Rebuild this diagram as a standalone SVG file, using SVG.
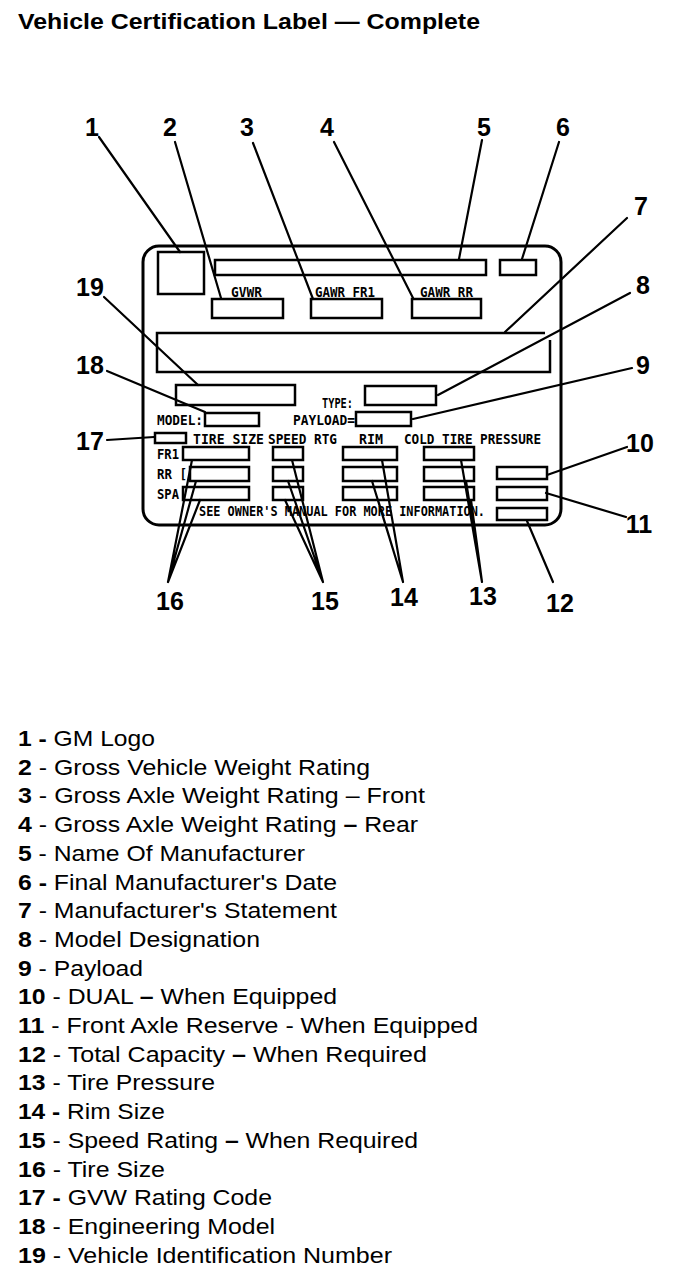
<svg xmlns="http://www.w3.org/2000/svg" width="688" height="1284" viewBox="0 0 688 1284">
<style>
.bx{fill:none;stroke:#000;stroke-width:2.5}
.ld{fill:none;stroke:#000;stroke-width:2.2;stroke-linecap:round}
.lt{font-family:"DejaVu Sans Mono","Liberation Mono",monospace;font-weight:bold;font-size:14px;fill:#000}
.num{font-family:"Liberation Sans",Arial,sans-serif;font-weight:bold;font-size:25px;fill:#000;text-anchor:middle}
.lg{font-family:"Liberation Sans",Arial,sans-serif;font-size:22px;fill:#000}
.b{font-weight:bold}
</style>
<rect width="688" height="1284" fill="#fff"/>
<text x="18" y="29" font-family="Liberation Sans, Arial, sans-serif" font-weight="bold" font-size="22px" textLength="462" lengthAdjust="spacingAndGlyphs">Vehicle Certification Label — Complete</text>

<g id="label">
<rect x="143" y="246" width="418" height="279" rx="16" ry="16" fill="none" stroke="#000" stroke-width="3"/>
</g>
<g id="n1-logo"><rect class="bx" x="158" y="252" width="46" height="42"/></g>
<g id="n5-manufacturer"><rect class="bx" x="215" y="260" width="271" height="15"/></g>
<g id="n6-date"><rect class="bx" x="500" y="260" width="36" height="15"/></g>
<g id="n2-gvwr"><text class="lt" x="231" y="297" textLength="31" lengthAdjust="spacingAndGlyphs">GVWR</text><rect class="bx" x="212" y="299" width="71" height="19"/></g>
<g id="n3-gawrfr"><text class="lt" x="315" y="297" textLength="60" lengthAdjust="spacingAndGlyphs">GAWR FR1</text><rect class="bx" x="311" y="299" width="71" height="19"/></g>
<g id="n4-gawrrr"><text class="lt" x="420" y="297" textLength="53" lengthAdjust="spacingAndGlyphs">GAWR RR</text><rect class="bx" x="412" y="299" width="69" height="19"/></g>
<g id="n7-statement"><path class="bx" d="M545 333 H157 V372 H550 V340"/></g>
<g id="n19-vin"><rect class="bx" x="176" y="385" width="119" height="20"/></g>
<g id="n8-type"><text class="lt" x="322" y="408" textLength="31" lengthAdjust="spacingAndGlyphs">TYPE:</text><rect class="bx" x="365" y="386" width="71" height="19"/></g>
<g id="n18-model"><text class="lt" x="157" y="425" textLength="46" lengthAdjust="spacingAndGlyphs">MODEL:</text><rect class="bx" x="205" y="413" width="54" height="13"/></g>
<g id="n9-payload"><text class="lt" x="293" y="425" textLength="62" lengthAdjust="spacingAndGlyphs">PAYLOAD=</text><rect class="bx" x="356" y="412" width="55" height="14"/></g>
<g id="n17-gvw"><rect class="bx" x="155" y="433" width="31" height="10"/></g>
<g id="headers">
<text class="lt" x="193" y="444" textLength="71" lengthAdjust="spacingAndGlyphs">TIRE SIZE</text>
<text class="lt" x="268" y="444" textLength="69" lengthAdjust="spacingAndGlyphs">SPEED RTG</text>
<text class="lt" x="359" y="444" textLength="24" lengthAdjust="spacingAndGlyphs">RIM</text>
<text class="lt" x="404" y="444" textLength="137" lengthAdjust="spacingAndGlyphs">COLD TIRE PRESSURE</text>
<text class="lt" x="157" y="459" textLength="22" lengthAdjust="spacingAndGlyphs">FR1</text>
<text class="lt" x="157" y="479" textLength="30" lengthAdjust="spacingAndGlyphs">RR [</text>
<text class="lt" x="157" y="499" textLength="22" lengthAdjust="spacingAndGlyphs">SPA</text>
<text class="lt" x="199" y="516" textLength="286" lengthAdjust="spacingAndGlyphs">SEE OWNER'S MANUAL FOR MORE INFORMATION.</text>
</g>
<g id="n16-tiresize">
<rect class="bx" x="183" y="447" width="66" height="13"/>
<rect class="bx" x="190" y="467" width="59" height="14"/>
<rect class="bx" x="183" y="487" width="66" height="13"/>
</g>
<g id="n15-speed">
<rect class="bx" x="273" y="447" width="30" height="13"/>
<rect class="bx" x="273" y="467" width="30" height="14"/>
<rect class="bx" x="273" y="487" width="30" height="13"/>
</g>
<g id="n14-rim">
<rect class="bx" x="343" y="447" width="54" height="13"/>
<rect class="bx" x="343" y="467" width="54" height="14"/>
<rect class="bx" x="343" y="487" width="54" height="13"/>
</g>
<g id="n13-pressure">
<rect class="bx" x="424" y="447" width="50" height="13"/>
<rect class="bx" x="424" y="467" width="50" height="14"/>
<rect class="bx" x="424" y="487" width="50" height="13"/>
</g>
<g id="n10-dual"><rect class="bx" x="497" y="467" width="50" height="12"/></g>
<g id="n11-reserve"><rect class="bx" x="497" y="487" width="50" height="13"/></g>
<g id="n12-capacity"><rect class="bx" x="497" y="508" width="50" height="12"/></g>

<g id="connectors">
<path class="ld" d="M99 137 L180 252"/>
<path class="ld" d="M175 142 L221 298"/>
<path class="ld" d="M253 143 L313 299"/>
<path class="ld" d="M334 142 L413 298"/>
<path class="ld" d="M482 140 L459 259"/>
<path class="ld" d="M559 142 L522 259"/>
<path class="ld" d="M627 218 L505 332"/>
<path class="ld" d="M630 293 L438 395"/>
<path class="ld" d="M632 368 L413 419"/>
<path class="ld" d="M627 447 L547 475"/>
<path class="ld" d="M626 517 L546 493"/>
<path class="ld" d="M553 582 L527 521"/>
<path class="ld" d="M461 460 L482 582 M466 481 L482 582 M471 500 L482 582"/>
<path class="ld" d="M382 460 L403 582 M372 481 L403 582 M378 500 L403 582"/>
<path class="ld" d="M292 460 L323 582 M288 481 L323 582 M285 500 L323 582"/>
<path class="ld" d="M192 460 L168 582 M196 481 L168 582 M200 500 L168 582"/>
<path class="ld" d="M107 440 L154 437"/>
<path class="ld" d="M107 371 L205 412"/>
<path class="ld" d="M104 297 L198 385"/>
</g>

<g id="callouts">
<text class="num" x="92" y="136">1</text>
<text class="num" x="170" y="136">2</text>
<text class="num" x="247" y="136">3</text>
<text class="num" x="327" y="136">4</text>
<text class="num" x="484" y="136">5</text>
<text class="num" x="563" y="136">6</text>
<text class="num" x="641" y="215">7</text>
<text class="num" x="643" y="294">8</text>
<text class="num" x="643" y="374">9</text>
<text class="num" x="640" y="452">10</text>
<text class="num" x="639" y="533">11</text>
<text class="num" x="560" y="612">12</text>
<text class="num" x="483" y="605">13</text>
<text class="num" x="404" y="606">14</text>
<text class="num" x="325" y="610">15</text>
<text class="num" x="170" y="610">16</text>
<text class="num" x="90" y="450">17</text>
<text class="num" x="90" y="374">18</text>
<text class="num" x="90" y="296">19</text>
</g>

<g id="legend" class="lg">
<text x="18" y="746" textLength="137" lengthAdjust="spacingAndGlyphs"><tspan class="b">1 -</tspan> GM Logo</text>
<text x="18" y="775" textLength="352" lengthAdjust="spacingAndGlyphs"><tspan class="b">2</tspan> - Gross Vehicle Weight Rating</text>
<text x="18" y="803" textLength="407" lengthAdjust="spacingAndGlyphs"><tspan class="b">3</tspan> - Gross Axle Weight Rating – Front</text>
<text x="18" y="832" textLength="400" lengthAdjust="spacingAndGlyphs"><tspan class="b">4</tspan> - Gross Axle Weight Rating <tspan class="b">–</tspan> Rear</text>
<text x="18" y="861" textLength="287" lengthAdjust="spacingAndGlyphs"><tspan class="b">5</tspan> - Name Of Manufacturer</text>
<text x="18" y="890" textLength="319" lengthAdjust="spacingAndGlyphs"><tspan class="b">6 -</tspan> Final Manufacturer's Date</text>
<text x="18" y="918" textLength="319" lengthAdjust="spacingAndGlyphs"><tspan class="b">7</tspan> - Manufacturer's Statement</text>
<text x="18" y="947" textLength="242" lengthAdjust="spacingAndGlyphs"><tspan class="b">8</tspan> - Model Designation</text>
<text x="18" y="976" textLength="125" lengthAdjust="spacingAndGlyphs"><tspan class="b">9</tspan> - Payload</text>
<text x="18" y="1004" textLength="319" lengthAdjust="spacingAndGlyphs"><tspan class="b">10</tspan> - DUAL <tspan class="b">–</tspan> When Equipped</text>
<text x="18" y="1033" textLength="460" lengthAdjust="spacingAndGlyphs"><tspan class="b">11</tspan> - Front Axle Reserve - When Equipped</text>
<text x="18" y="1062" textLength="409" lengthAdjust="spacingAndGlyphs"><tspan class="b">12</tspan> - Total Capacity <tspan class="b">–</tspan> When Required</text>
<text x="18" y="1090" textLength="197" lengthAdjust="spacingAndGlyphs"><tspan class="b">13</tspan> - Tire Pressure</text>
<text x="18" y="1119" textLength="147" lengthAdjust="spacingAndGlyphs"><tspan class="b">14 -</tspan> Rim Size</text>
<text x="18" y="1148" textLength="400" lengthAdjust="spacingAndGlyphs"><tspan class="b">15</tspan> - Speed Rating <tspan class="b">–</tspan> When Required</text>
<text x="18" y="1177" textLength="147" lengthAdjust="spacingAndGlyphs"><tspan class="b">16</tspan> - Tire Size</text>
<text x="18" y="1205" textLength="254" lengthAdjust="spacingAndGlyphs"><tspan class="b">17 -</tspan> GVW Rating Code</text>
<text x="18" y="1234" textLength="257" lengthAdjust="spacingAndGlyphs"><tspan class="b">18</tspan> - Engineering Model</text>
<text x="18" y="1263" textLength="374" lengthAdjust="spacingAndGlyphs"><tspan class="b">19</tspan> - Vehicle Identification Number</text>
</g>
</svg>
